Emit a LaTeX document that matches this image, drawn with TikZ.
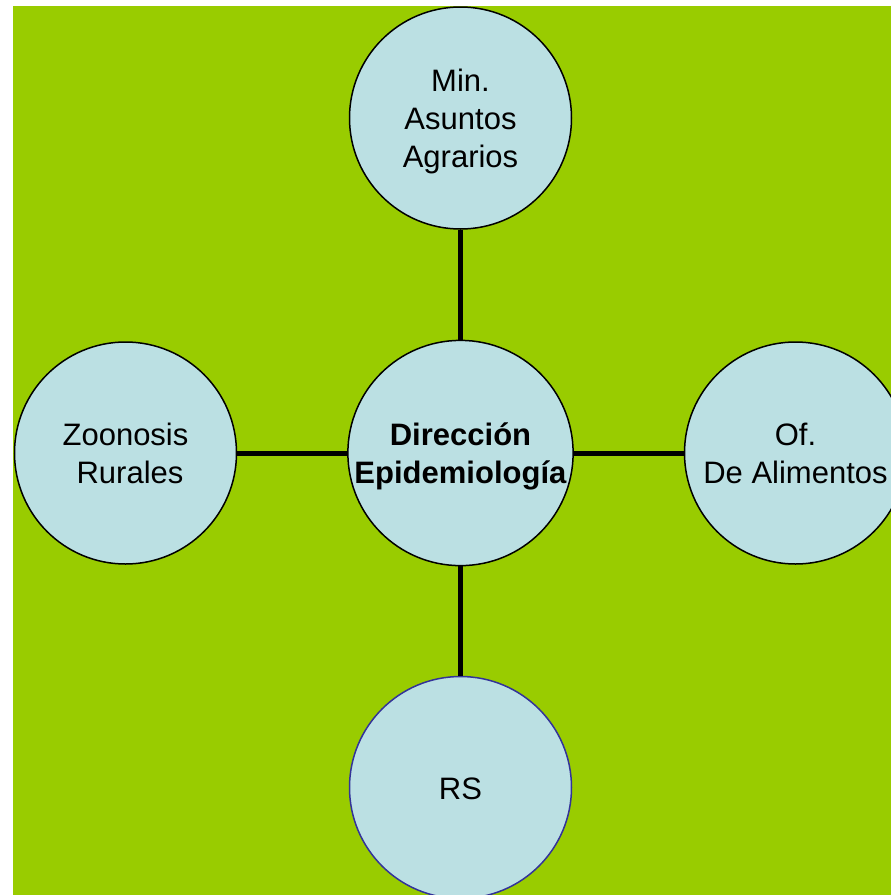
\documentclass[tikz,border=0pt]{standalone}
\usepackage{fontspec}
\setmainfont{Liberation Sans}
\definecolor{fondo}{HTML}{99CC00}
\definecolor{celeste}{HTML}{BBE0E3}
\definecolor{bordeazul}{HTML}{333399}
\newcommand{\lin}{\rule[-7.5pt]{0pt}{38pt}}
\begin{document}
\begin{tikzpicture}[x=1pt,y=-1pt,
  area/.style={circle,draw=black,line width=1.5pt,fill=celeste,
    minimum size=222pt,inner sep=0pt,align=center,
    font=\fontsize{31}{38}\selectfont},
  enlace/.style={line width=5pt}]

  \useasboundingbox (0,0) rectangle (891,895);
  \clip (0,0) rectangle (891,895);
  \fill[fondo] (13,6) rectangle (891,895);

  \node[area] (dir) at (460.5,453) {\lin\textbf{Dirección}\\\textbf{Epidemiología}\lin};
  \node[area] (agr) at (460.5,118) {\lin Min.\\Asuntos\\Agrarios\lin};
  \node[area] (zoo) at (125.5,453) {\lin Zoonosis\\\hspace*{9pt}Rurales\lin};
  \node[area] (ali) at (795.5,453) {\lin Of.\\De Alimentos\lin};
  \node[area,draw=bordeazul] (rs) at (460.5,787.5) {\lin RS};

  \draw[enlace] (dir) -- (agr);
  \draw[enlace] (dir) -- (zoo);
  \draw[enlace] (dir) -- (ali);
  \draw[enlace] (dir) -- (rs);

\end{tikzpicture}
\end{document}
